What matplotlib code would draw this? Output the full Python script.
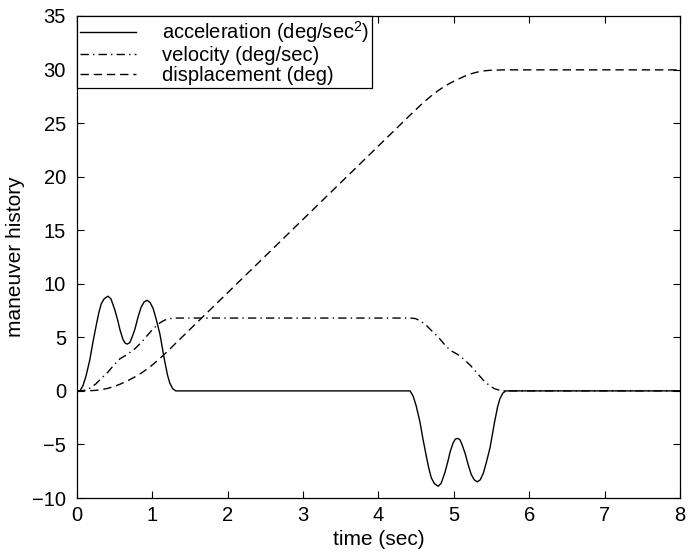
import matplotlib
matplotlib.use("Agg")
import matplotlib.pyplot as plt

plt.rcParams['font.family'] = ['Liberation Sans', 'DejaVu Sans']
plt.rcParams['mathtext.fontset'] = 'custom'
plt.rcParams['mathtext.rm'] = 'Liberation Sans'
plt.rcParams['mathtext.it'] = 'Liberation Sans:italic'

# ---- data ----
acc_t = [0, 0.04, 0.08, 0.12, 0.17, 0.21, 0.26, 0.29, 0.32, 0.36, 0.41, 0.45, 0.50, 0.54,
         0.57, 0.61, 0.64, 0.667, 0.70, 0.73, 0.77, 0.81, 0.85, 0.89, 0.93, 0.97, 1.01,
         1.05, 1.10, 1.13, 1.16, 1.20, 1.23, 1.27, 1.31,
         4.42, 4.46, 4.50, 4.55, 4.59, 4.64, 4.67, 4.70, 4.74, 4.79, 4.83, 4.88, 4.92,
         4.95, 4.99, 5.02, 5.05, 5.08, 5.11, 5.15, 5.19, 5.23, 5.27, 5.31, 5.35, 5.39,
         5.43, 5.48, 5.51, 5.54, 5.58, 5.61, 5.65, 5.69, 8.0]
acc_v = [0, 0, 0.5, 1.4, 2.9, 4.5, 6.3, 7.3, 8.1, 8.6, 8.84, 8.6, 7.6, 6.6,
         5.7, 4.8, 4.45, 4.37, 4.5, 5.0, 5.8, 6.9, 7.8, 8.3, 8.46, 8.25, 7.7,
         6.7, 5.3, 4.1, 2.9, 1.5, 0.75, 0.2, 0,
         0, -0.5, -1.4, -2.9, -4.5, -6.3, -7.3, -8.1, -8.65, -8.9, -8.65, -7.65, -6.6,
         -5.7, -4.85, -4.5, -4.43, -4.55, -5.05, -5.85, -6.9, -7.8, -8.3, -8.49, -8.3, -7.7,
         -6.7, -5.3, -4.1, -2.9, -1.5, -0.75, -0.2, 0, 0]

vel_t = [0, 0.04, 0.10, 0.17, 0.25, 0.32, 0.41, 0.50, 0.57, 0.667, 0.77, 0.85, 0.93,
         1.01, 1.10, 1.16, 1.23, 1.31,
         4.42, 4.49, 4.55, 4.63, 4.70, 4.79, 4.88, 4.95, 5.05, 5.15, 5.23, 5.31, 5.39,
         5.48, 5.54, 5.61, 5.69, 8.0]
vel_v = [0, 0, 0.05, 0.25, 0.65, 1.15, 1.75, 2.5, 3.0, 3.4, 3.95, 4.5, 5.15,
         5.8, 6.35, 6.6, 6.75, 6.8,
         6.8, 6.75, 6.55, 6.15, 5.65, 5.05, 4.3, 3.8, 3.4, 2.85, 2.3, 1.65, 1.0,
         0.45, 0.2, 0.05, 0, 0]

dis_t = [0, 0.04, 0.17, 0.25, 0.32, 0.41, 0.50, 0.57, 0.667, 0.77, 0.85, 0.93, 1.01,
         1.10, 1.16, 1.23, 1.31,
         4.42, 4.49, 4.55, 4.63, 4.70, 4.79, 4.88, 4.95, 5.05, 5.15, 5.23, 5.31, 5.39,
         5.48, 5.54, 5.69, 8.0]
dis_v = [0, 0, 0.015, 0.05, 0.11, 0.24, 0.43, 0.62, 0.93, 1.31, 1.65, 2.04, 2.48,
         3.03, 3.42, 3.89, 4.45,
         25.75, 26.22, 26.62, 27.13, 27.54, 28.03, 28.45, 28.73, 29.08, 29.40, 29.61,
         29.76, 29.87, 29.93, 29.95, 29.97, 29.97]

labels = ['acceleration (deg/sec$^2$)', 'velocity (deg/sec)', 'displacement (deg)']
x_ticks = [0, 1, 2, 3, 4, 5, 6, 7, 8]
y_ticks = [-10, -5, 0, 5, 10, 15, 20, 25, 30, 35]

fig = plt.figure(figsize=(6.9, 5.55), dpi=100)
ax = fig.add_axes([0.1116, 0.1027, 0.8739, 0.8685])

ax.plot(acc_t, acc_v, color='black', lw=1.0, linestyle='-', label=labels[0])
ax.plot(vel_t, vel_v, color='black', lw=1.0, linestyle=(0, (6, 3, 1, 3)), label=labels[1])
ax.plot(dis_t, dis_v, color='black', lw=1.0, linestyle=(0, (6, 3.5)), label=labels[2])

ax.set_xlim(0, 8)
ax.set_ylim(-10, 35)
ax.set_xticks(x_ticks)
ax.set_yticks(y_ticks)
ax.tick_params(direction='in', top=True, right=True, length=5, width=0.8,
               labelsize=14.5)
ax.tick_params(axis='x', pad=5.5)
ax.tick_params(axis='y', pad=8)
for s in ax.spines.values():
    s.set_linewidth(0.9)
ax.set_xlabel('time (sec)', fontsize=15, labelpad=4)
ax.set_ylabel('maneuver history', fontsize=15, labelpad=5)

leg = ax.legend(loc='upper left', bbox_to_anchor=(0, 1), borderaxespad=0,
                fancybox=False, framealpha=1, edgecolor='black', fontsize=14.5,
                handlelength=2.8, handletextpad=1.25, labelspacing=0.05,
                borderpad=0.15)
leg.get_frame().set_linewidth(0.9)

fig.savefig('out.png', dpi=100)
